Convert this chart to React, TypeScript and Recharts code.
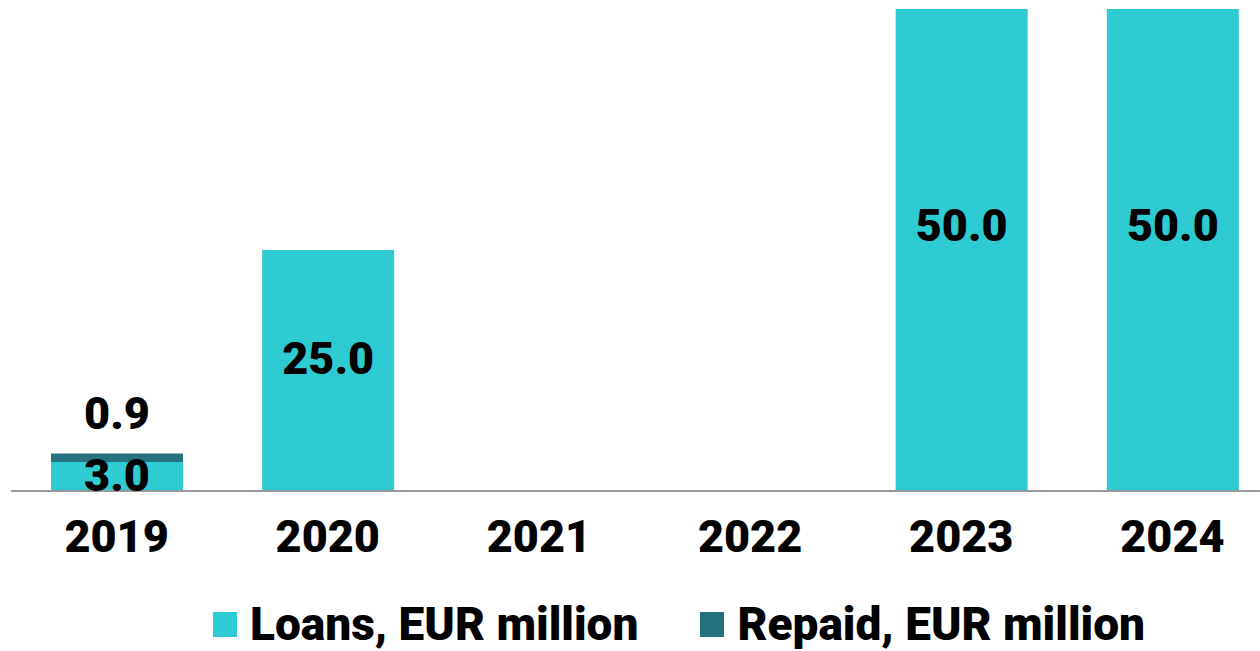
import { BarChart, Bar, XAxis, YAxis, Legend, LabelList } from 'recharts'

const years = ['2019', '2020', '2021', '2022', '2023', '2024']
const loans: (number | null)[] = [3.0, 25.0, null, null, 50.0, 50.0]
const repaid: (number | null)[] = [0.9, null, null, null, null, null]

const data = years.map((year, i) => ({ year, loans: loans[i], repaid: repaid[i] }))

const FONT = "Roboto, 'DejaVu Sans', sans-serif"
const LOAN_COLOR = '#2ecbd3'
const REPAID_COLOR = '#26737f'

// eslint-disable-next-line @typescript-eslint/no-explicit-any
function InnerLabel({ x, y, width, height, value }: any) {
  if (value == null) return null
  return (
    <text
      x={x + width / 2}
      y={y + height * 0.45}
      textAnchor="middle"
      dominantBaseline="central"
      fontFamily={FONT}
      fontWeight={900}
      fontSize={45}
      fill="#000"
    >
      {Number(value).toFixed(1)}
    </text>
  )
}

// eslint-disable-next-line @typescript-eslint/no-explicit-any
function TopLabel({ x, y, width, value }: any) {
  if (value == null) return null
  return (
    <text
      x={x + width / 2}
      y={y - 40}
      textAnchor="middle"
      dominantBaseline="central"
      fontFamily={FONT}
      fontWeight={900}
      fontSize={45}
      fill="#000"
    >
      {Number(value).toFixed(1)}
    </text>
  )
}

// eslint-disable-next-line @typescript-eslint/no-explicit-any
function LegendBox({ payload }: any) {
  return (
    <div style={{ height: 80, position: 'relative' }}>
      <div style={{ position: 'absolute', left: 202, top: 26, display: 'flex', alignItems: 'center' }}>
        {payload?.map((p: { value: string; color: string }, i: number) => (
          <div key={p.value} style={{ display: 'flex', alignItems: 'center', marginLeft: i ? 62 : 0 }}>
            <span style={{ width: 24, height: 25, background: p.color, marginRight: 13, display: 'inline-block' }} />
            <span style={{ fontFamily: FONT, fontWeight: 900, fontSize: 46, lineHeight: '54px', color: '#000', whiteSpace: 'nowrap' }}>
              {p.value}
            </span>
          </div>
        ))}
      </div>
    </div>
  )
}

export default function App() {
  return (
    <div style={{ position: 'fixed', left: 0, top: 0, width: 1260, height: 651, overflow: 'hidden', background: '#fff' }}>
      <BarChart
        width={1278}
        height={651}
        data={data}
        margin={{ top: 9, right: 0, left: 11, bottom: 0 }}
        barSize={132}
      >
        <XAxis
          dataKey="year"
          height={80}
          tickLine={false}
          tickSize={0}
          tickMargin={29}
          axisLine={{ stroke: '#999999', strokeWidth: 2 }}
          tick={{ fontFamily: FONT, fontWeight: 900, fontSize: 45, fill: '#000' }}
        />
        <YAxis hide domain={[0, 50]} />
        <Legend verticalAlign="bottom" height={80} content={<LegendBox />} />
        <Bar dataKey="loans" name="Loans, EUR million" stackId="a" fill={LOAN_COLOR} isAnimationActive={false}>
          <LabelList dataKey="loans" content={<InnerLabel />} />
        </Bar>
        <Bar dataKey="repaid" name="Repaid, EUR million" stackId="a" fill={REPAID_COLOR} isAnimationActive={false}>
          <LabelList dataKey="repaid" content={<TopLabel />} />
        </Bar>
      </BarChart>
    </div>
  )
}
